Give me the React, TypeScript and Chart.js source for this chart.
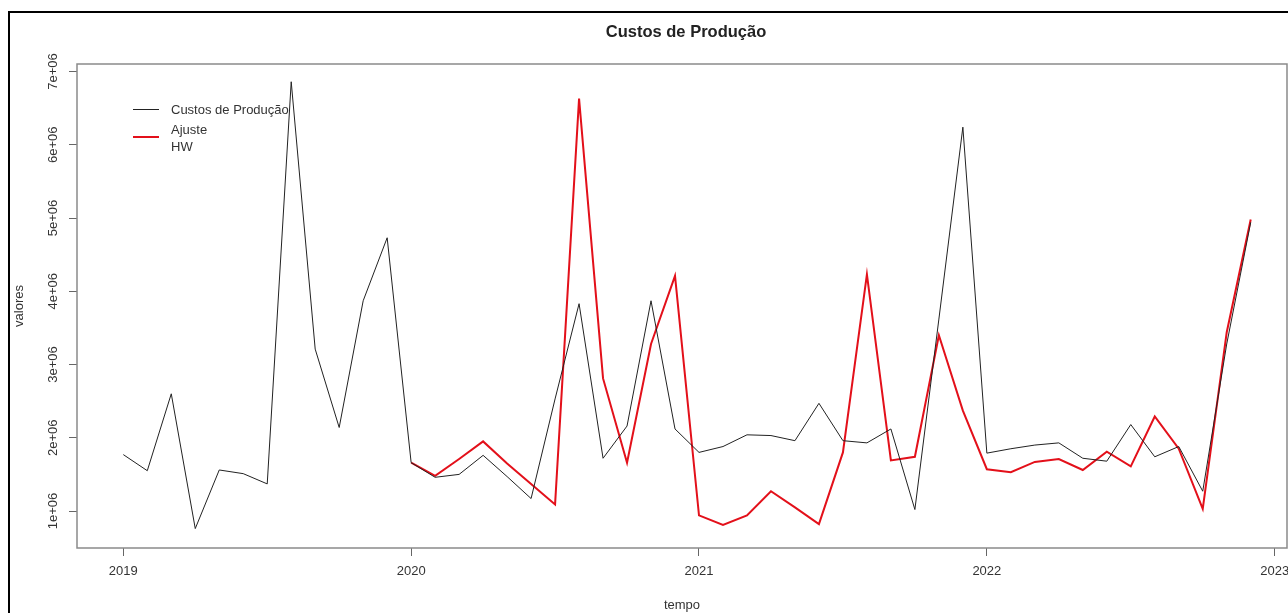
import React, { useEffect, useRef } from "react";
import { Chart, registerables } from "chart.js";

Chart.register(...registerables);

// ---- data ----
const chartTitle = "Custos de Produção";
const xTitle = "tempo";
const yTitle = "valores";
const startYear = 2019; // monthly series, January 2019
const fitStartYear = 2020; // Holt-Winters fit starts January 2020
const legendLabels = ["Custos de Produção", "Ajuste\nHW"];
const yTickValues = [1e6, 2e6, 3e6, 4e6, 5e6, 6e6, 7e6];
const yTickLabels = ["1e+06", "2e+06", "3e+06", "4e+06", "5e+06", "6e+06", "7e+06"];
const xTickValues = [2019, 2020, 2021, 2022, 2023];

const custos = [
  1.77e6, 1.55e6, 2.6e6, 0.76e6, 1.56e6, 1.51e6, 1.37e6, 6.86e6, 3.21e6, 2.14e6, 3.87e6, 4.73e6,
  1.66e6, 1.46e6, 1.5e6, 1.76e6, 1.47e6, 1.17e6, 2.53e6, 3.83e6, 1.72e6, 2.16e6, 3.87e6, 2.12e6,
  1.8e6, 1.88e6, 2.04e6, 2.03e6, 1.96e6, 2.47e6, 1.96e6, 1.93e6, 2.12e6, 1.02e6, 3.62e6, 6.24e6,
  1.79e6, 1.85e6, 1.9e6, 1.93e6, 1.72e6, 1.68e6, 2.18e6, 1.74e6, 1.88e6, 1.27e6, 3.28e6, 4.94e6,
];
const ajusteHW = [
  1.66e6, 1.48e6, 1.71e6, 1.95e6, 1.65e6, 1.37e6, 1.09e6, 6.63e6, 2.81e6, 1.66e6, 3.28e6, 4.21e6,
  0.94e6, 0.81e6, 0.94e6, 1.27e6, 1.05e6, 0.82e6, 1.8e6, 4.23e6, 1.69e6, 1.74e6, 3.4e6, 2.37e6,
  1.57e6, 1.53e6, 1.67e6, 1.71e6, 1.56e6, 1.81e6, 1.61e6, 2.29e6, 1.85e6, 1.03e6, 3.44e6, 4.98e6,
];

const FONT = "'Liberation Sans', Arial, sans-serif";
const TEXT = "#333333";

const rPlotPlugin = {
  id: "rPlot",
  beforeDraw(chart: any) {
    const ctx = chart.ctx;
    ctx.save();
    ctx.fillStyle = "#ffffff";
    ctx.fillRect(0, 0, chart.width, chart.height);
    // outer frame of the screenshot
    ctx.fillStyle = "#000000";
    ctx.fillRect(8, 11, 2, chart.height - 11);
    ctx.fillRect(8, 11, chart.width - 8, 2);
    ctx.restore();
  },
  afterDraw(chart: any) {
    const ctx = chart.ctx;
    const a = chart.chartArea;
    const ys = chart.scales.y;
    ctx.save();
    // plot box
    ctx.strokeStyle = "#8a8a8a";
    ctx.lineWidth = 1.5;
    ctx.strokeRect(a.left, a.top, a.right - a.left, a.bottom - a.top);

    // title
    ctx.fillStyle = "#222222";
    ctx.font = `bold 16.5px ${FONT}`;
    ctx.textAlign = "center";
    ctx.textBaseline = "middle";
    ctx.fillText(chartTitle, 686, 32);

    // rotated y tick labels
    ctx.font = `13px ${FONT}`;
    ctx.fillStyle = TEXT;
    ys.ticks.forEach((t: any) => {
      const idx = yTickValues.indexOf(t.value);
      if (idx < 0) return;
      const py = ys.getPixelForValue(t.value);
      ctx.save();
      ctx.translate(53, py);
      ctx.rotate(-Math.PI / 2);
      ctx.textAlign = "center";
      ctx.textBaseline = "middle";
      ctx.fillText(yTickLabels[idx], 0, 0);
      ctx.restore();
    });

    // legend (R style, no box)
    ctx.textAlign = "left";
    ctx.textBaseline = "middle";
    ctx.strokeStyle = "#222222";
    ctx.lineWidth = 1;
    ctx.beginPath();
    ctx.moveTo(133, 109.5);
    ctx.lineTo(159, 109.5);
    ctx.stroke();
    ctx.fillText(legendLabels[0], 171, 110);
    ctx.strokeStyle = "#e3101a";
    ctx.lineWidth = 2;
    ctx.beginPath();
    ctx.moveTo(133, 137);
    ctx.lineTo(159, 137);
    ctx.stroke();
    const lines = legendLabels[1].split("\n");
    ctx.fillText(lines[0], 171, 130);
    ctx.fillText(lines[1], 171, 147);
    ctx.restore();
  },
};

export default function App() {
  const ref = useRef<HTMLCanvasElement | null>(null);
  useEffect(() => {
    if (!ref.current) return;
    const pxPerYear = (1274.7 - 123.3) / 4;
    const xMin = 2019 - (123.3 - 77) / pxPerYear;
    const xMax = 2019 + (1287 - 123.3) / pxPerYear;
    const pxPerUnit = (511 - 71.5) / 6e6;
    const yMax = 7e6 + (71.5 - 64) / pxPerUnit;
    const yMin = 1e6 - (548 - 511) / pxPerUnit;

    const chart = new Chart(ref.current, {
      type: "line",
      data: {
        datasets: [
          {
            label: legendLabels[0],
            data: custos.map((v, i) => ({ x: startYear + i / 12, y: v })),
            borderColor: "#222222",
            borderWidth: 1,
            pointRadius: 0,
            tension: 0,
          },
          {
            label: legendLabels[1],
            data: ajusteHW.map((v, i) => ({ x: fitStartYear + i / 12, y: v })),
            borderColor: "#e3101a",
            borderWidth: 2,
            pointRadius: 0,
            tension: 0,
          },
        ],
      },
      options: {
        animation: false,
        responsive: false,
        layout: { padding: { top: 64, left: 0, right: 1, bottom: 0 } },
        plugins: { legend: { display: false }, tooltip: { enabled: false }, title: { display: false } },
        scales: {
          x: {
            type: "linear",
            min: xMin,
            max: xMax,
            afterBuildTicks: (s: any) => {
              s.ticks = xTickValues.map((v) => ({ value: v }));
            },
            afterFit: (s: any) => {
              s.height = 613 - 548;
              s.paddingLeft = 0;
              s.paddingRight = 0;
            },
            border: { display: false },
            grid: { drawOnChartArea: false, drawTicks: true, tickLength: 8, color: "#666666", lineWidth: 1 },
            ticks: {
              autoSkip: false,
              maxRotation: 0,
              minRotation: 0,
              padding: 8,
              color: TEXT,
              font: { family: FONT, size: 13 },
              callback: (v: any) => String(v),
            },
            title: { display: true, text: xTitle, color: TEXT, font: { family: FONT, size: 13 }, padding: { top: 0, bottom: 0 } },
          },
          y: {
            type: "linear",
            min: yMin,
            max: yMax,
            afterBuildTicks: (s: any) => {
              s.ticks = yTickValues.map((v) => ({ value: v }));
            },
            afterFit: (s: any) => {
              s.width = 77;
              s.paddingTop = 0;
              s.paddingBottom = 0;
            },
            border: { display: false },
            grid: { drawOnChartArea: false, drawTicks: true, tickLength: 8, color: "#666666", lineWidth: 1 },
            ticks: { display: false },
            title: { display: true, text: yTitle, color: TEXT, font: { family: FONT, size: 13 }, padding: { top: 12, bottom: 0 } },
          },
        },
      },
      plugins: [rPlotPlugin],
    });
    return () => chart.destroy();
  }, []);

  return (
    <div style={{ position: "absolute", left: 0, top: 0, width: 1288, height: 613 }}>
      <canvas ref={ref} width={1288} height={613} />
    </div>
  );
}
